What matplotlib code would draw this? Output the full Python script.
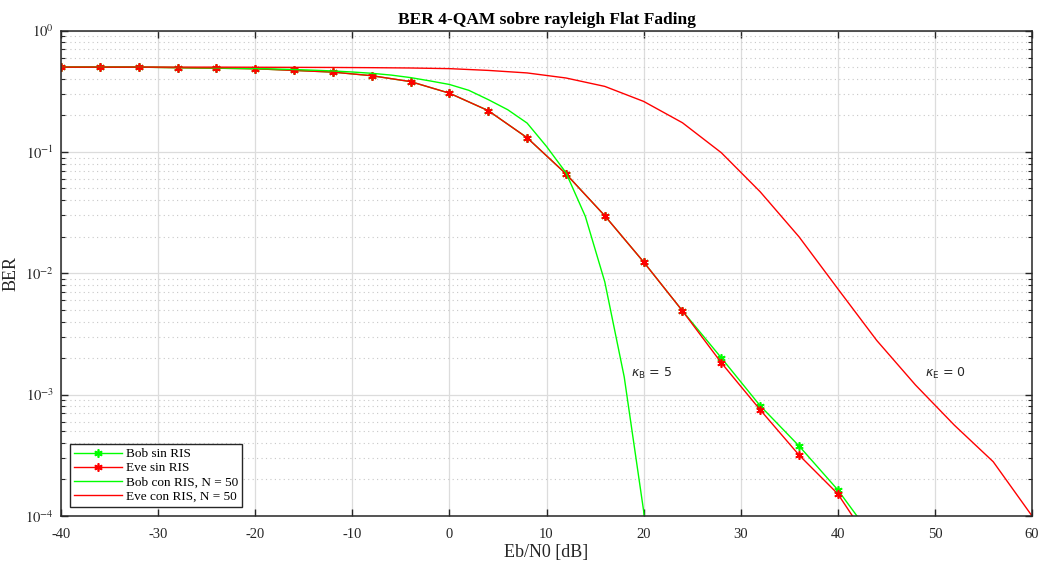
import numpy as np
import matplotlib
matplotlib.use("Agg")
import matplotlib.pyplot as plt
from matplotlib.ticker import FixedLocator, LogLocator, NullFormatter, FuncFormatter

plt.rcParams['font.family'] = ['Liberation Serif', 'DejaVu Serif']
plt.rcParams['mathtext.fontset'] = 'stix'
plt.rcParams['axes.unicode_minus'] = False

# Eb/N0 [dB] y BER
snr_sin = [-40, -36, -32, -28, -24, -20, -16, -12, -8, -4, 0, 4, 8, 12, 16, 20,
           24, 28, 32, 36, 40, 44]
bob_sin = [0.50, 0.50, 0.50, 0.495, 0.49, 0.485, 0.47, 0.455, 0.425, 0.38, 0.305,
           0.219, 0.131, 0.066, 0.0298, 0.0124, 0.0049, 0.00201, 0.00081,
           0.000378, 0.000164, 0.00006]
eve_sin = [0.50, 0.50, 0.50, 0.495, 0.49, 0.485, 0.47, 0.455, 0.425, 0.38, 0.305,
           0.219, 0.131, 0.066, 0.0298, 0.0124, 0.0049, 0.00183, 0.00075,
           0.000318, 0.000152, 0.00005]

snr_bob_ris = [-40, -38, -36, -34, -32, -30, -28, -26, -24, -22, -20, -18, -16,
               -14, -12, -10, -8, -6, -4, -2, 0, 2, 4, 6, 8, 10, 12, 14, 16, 18,
               20, 22]
bob_ris = [0.5, 0.5, 0.5, 0.5, 0.499, 0.498, 0.497, 0.495, 0.493, 0.49, 0.487,
           0.483, 0.478, 0.472, 0.465, 0.456, 0.445, 0.43, 0.41, 0.385, 0.36,
           0.322, 0.27, 0.223, 0.173, 0.111, 0.0675, 0.0294, 0.0085, 0.0014,
           0.00011, 0.000003]

snr_eve_ris = [-40, -36, -32, -28, -24, -20, -16, -12, -8, -4, 0, 4, 8, 12, 16,
               20, 24, 28, 32, 36, 40, 44, 48, 52, 56, 60]
eve_ris = [0.5, 0.5, 0.5, 0.5, 0.5, 0.499, 0.498, 0.497, 0.495, 0.492, 0.486,
           0.470, 0.448, 0.407, 0.347, 0.261, 0.174, 0.0986, 0.047, 0.02,
           0.00745, 0.0028, 0.0012, 0.00056, 0.00028, 0.0001]

verde = '#00ff00'
rojo = '#ff0000'
asterisco = (6, 2, 0)

fig = plt.figure(figsize=(10.41, 5.67), dpi=100)
ax = fig.add_axes([0.0586, 0.09, 0.9328, 0.856])

ax.semilogy(snr_sin, bob_sin, color=verde, lw=1.0, marker=asterisco, ms=6,
            mew=1.2, label='Bob sin RIS')
ax.semilogy(snr_sin, eve_sin, color=rojo, lw=1.0, marker=asterisco, ms=6,
            mew=1.2, label='Eve sin RIS')
ax.semilogy(snr_bob_ris, bob_ris, color=verde, lw=1.0, label='Bob con RIS, N = 50')
ax.semilogy(snr_eve_ris, eve_ris, color=rojo, lw=1.0, label='Eve con RIS, N = 50')

ax.set_xlim(-40, 60)
ax.set_ylim(1e-4, 1)

ax.xaxis.set_major_locator(FixedLocator(np.arange(-40, 61, 10)))
ax.yaxis.set_major_locator(LogLocator(base=10, numticks=10))
ax.yaxis.set_minor_locator(LogLocator(base=10, subs=np.arange(2, 10), numticks=20))
ax.yaxis.set_minor_formatter(NullFormatter())
ax.yaxis.set_major_formatter(FuncFormatter(lambda v, p: r'$10^{%d}$' % round(np.log10(v))))

ax.grid(True, which='major', color='#dcdcdc', lw=0.9, ls='-')
ax.grid(True, which='minor', axis='y', color='#c8c8c8', lw=0.8, ls=(0, (1, 3)))
ax.set_axisbelow(True)

ax.tick_params(which='both', direction='in', top=True, right=True,
               colors='#262626', labelcolor='#262626', labelsize=10.5)
ax.tick_params(which='major', length=5, width=1)
ax.tick_params(which='minor', length=3, width=0.8)
ax.tick_params(axis='x', pad=9)
ax.tick_params(axis='y', pad=5)
for s in ax.spines.values():
    s.set_color('#262626')
    s.set_linewidth(1.1)

ax.set_title('BER 4-QAM sobre rayleigh Flat Fading', fontsize=12.5,
             fontweight='bold', pad=5)
ax.set_xlabel('Eb/N0 [dB]', fontsize=13, color='#262626', labelpad=2)
ax.set_ylabel('BER', fontsize=13, color='#262626')

ax.text(18.7, 1.5e-3, r'$\kappa_{\rm B}$ = 5', fontsize=9, color='#262626',
        family='DejaVu Sans', math_fontfamily='dejavusans', va='center')
ax.text(49.0, 1.5e-3, r'$\kappa_{\rm E}$ = 0', fontsize=9, color='#262626',
        family='DejaVu Sans', math_fontfamily='dejavusans', va='center')

leg = ax.legend(loc='lower left', fontsize=9.5, fancybox=False, framealpha=1,
                edgecolor='#262626', borderaxespad=0.7, handlelength=3.6,
                labelspacing=0.15, borderpad=0.3, handletextpad=0.3)
leg.get_frame().set_linewidth(1.0)

fig.savefig('out.png', dpi=100)
